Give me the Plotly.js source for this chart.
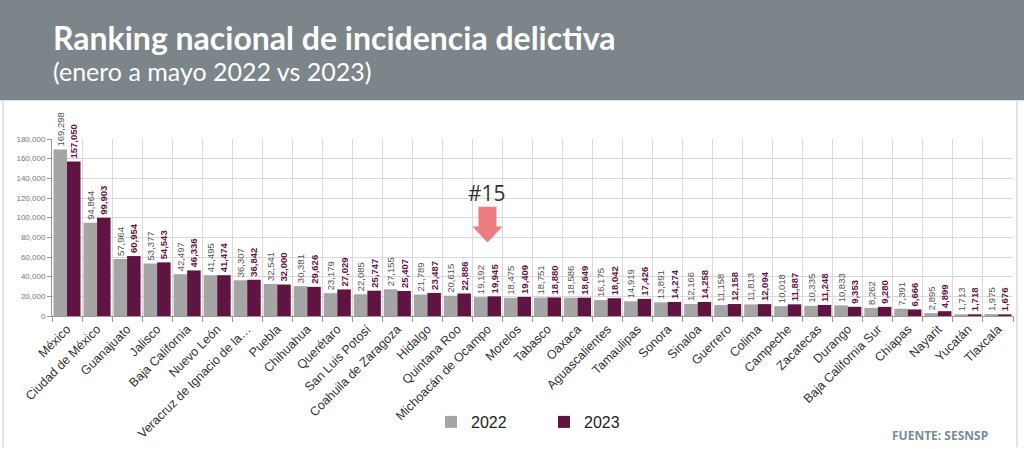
<!DOCTYPE html>
<html>
<head>
<meta charset="utf-8">
<script src="https://cdn.plot.ly/plotly-3.0.1.min.js"></script>
<style>
html,body{margin:0;padding:0;background:#fff;}
#chart{width:1024px;height:449px;}
</style>
</head>
<body>
<div id="chart"></div>
<script>
const estados = ["México","Ciudad de México","Guanajuato","Jalisco","Baja California","Nuevo León","Veracruz de Ignacio de la…","Puebla","Chihuahua","Querétaro","San Luis Potosí","Coahuila de Zaragoza","Hidalgo","Quintana Roo","Michoacán de Ocampo","Morelos","Tabasco","Oaxaca","Aguascalientes","Tamaulipas","Sonora","Sinaloa","Guerrero","Colima","Campeche","Zacatecas","Durango","Baja California Sur","Chiapas","Nayarit","Yucatán","Tlaxcala"];
const valores2022 = [169298,94864,57964,53377,42497,41495,36307,32541,30381,23179,22085,27155,21789,20615,19192,18475,18751,18586,16175,14919,13891,12166,11158,11813,10018,10335,10833,8262,7391,2895,1713,1975];
const valores2023 = [157050,99903,60954,54543,46336,41474,36842,32000,29626,27029,25747,25407,23487,22886,19945,19409,18880,18649,18042,17426,14274,14258,12158,12094,11887,11248,9353,9280,6666,4899,1718,1676];
const yTicks = [0,20000,40000,60000,80000,100000,120000,140000,160000,180000];
const titulo = "Ranking nacional de incidencia delictiva";
const subtitulo = "(enero a mayo 2022 vs 2023)";
const fuente = "FUENTE: SESNSP";
const marcaRanking = "#15";
const posicionMarca = 14;

const fmt = v => v.toLocaleString('en-US');

const gris = '#a5a5a5';
const vino = '#5f1442';

const traces = [
  {
    type:'bar', name:'2022', x:estados, y:valores2022,
    marker:{color:gris},
    text:valores2022.map(fmt), textposition:'outside', textangle:-90,
    textfont:{family:'Liberation Sans, Arial', size:9.5, color:'#555'},
    constraintext:'none', cliponaxis:false, hoverinfo:'none'
  },
  {
    type:'bar', name:'2023', x:estados, y:valores2023,
    marker:{color:vino},
    text:valores2023.map(v=>'<b>'+fmt(v)+'</b>'), textposition:'outside', textangle:-90,
    textfont:{family:'Liberation Sans, Arial', size:9.5, color:vino},
    constraintext:'none', cliponaxis:false, hoverinfo:'none'
  }
];

// paper coordinate helpers (plot area: x 52..1013, y 139..317)
const L=52, R=1013, T=139, B=317;
const px = p => (p-L)/(R-L);
const py = p => (B-p)/(B-T);

const xc = posicionMarca;
const layout = {
  width:1024, height:449,
  margin:{l:L, r:1024-R, t:T, b:449-B, pad:0},
  paper_bgcolor:'#fff', plot_bgcolor:'#fff',
  barmode:'group', bargap:0.1, bargroupgap:0,
  showlegend:true,
  legend:{orientation:'h', x:px(431), y:py(422), xanchor:'left', yanchor:'middle',
    font:{family:'Liberation Sans, Arial', size:16, color:'#222'},
    entrywidth:68, entrywidthmode:'pixels', itemwidth:30, traceorder:'normal'},
  xaxis:{
    type:'category', tickangle:-45, tickson:'boundaries',
    showgrid:true, gridcolor:'#d9d9d9', gridwidth:1,
    ticks:'outside', ticklen:5, tickcolor:'#999',
    showline:true, linecolor:'#999', linewidth:1,
    tickfont:{family:'Liberation Sans, Arial', size:12.5, color:'#333'},
    automargin:false, fixedrange:true
  },
  yaxis:{
    range:[0,180000], tickvals:yTicks, ticktext:yTicks.map(fmt),
    showgrid:true, gridcolor:'#d9d9d9', gridwidth:1,
    ticks:'outside', ticklen:4, tickcolor:'#999',
    showline:true, linecolor:'#999', linewidth:1, zeroline:false,
    tickfont:{family:'Liberation Sans, Arial', size:8, color:'#777'},
    automargin:false, fixedrange:true
  },
  shapes:[
    {type:'rect', xref:'paper', yref:'paper', x0:px(-5), x1:px(1030), y0:py(100), y1:py(-5),
      fillcolor:'#7b858a', line:{width:0}, layer:'above'},
    {type:'line', xref:'paper', yref:'paper', x0:px(3), x1:px(3), y0:py(449), y1:py(100),
      line:{color:'#e3e3e3', width:2}},
    {type:'line', xref:'paper', yref:'paper', x0:px(1017), x1:px(1017), y0:py(449), y1:py(100),
      line:{color:'#e3e3e3', width:2}},
    {type:'path', xref:'x', yref:'y', layer:'above',
      path:`M ${xc-0.3} 111200 L ${xc+0.3} 111200 L ${xc+0.3} 91000 L ${xc+0.5} 91000 L ${xc} 74800 L ${xc-0.5} 91000 L ${xc-0.3} 91000 Z`,
      fillcolor:'#ee7b7d', line:{width:0}}
  ],
  annotations:[
    {xref:'paper', yref:'paper', x:px(51), y:py(37), xanchor:'left', yanchor:'middle',
      text:'<b>'+titulo+'</b>', showarrow:false,
      font:{family:'Lato', size:32, color:'#fff'}},
    {xref:'paper', yref:'paper', x:px(51), y:py(71), xanchor:'left', yanchor:'middle',
      text:subtitulo, showarrow:false,
      font:{family:'Lato', size:25, color:'#fff'}},
    {xref:'x', yref:'y', x:xc, y:125400, xanchor:'center', yanchor:'middle',
      text:marcaRanking, showarrow:false,
      font:{family:'Open Sans', size:21, color:'#333'}},
    {xref:'paper', yref:'paper', x:px(990), y:py(437), xanchor:'right', yanchor:'middle',
      text:'<b>'+fuente+'</b>', showarrow:false,
      font:{family:'Open Sans', size:12, color:'#7d8b96'}}
  ]
};

Plotly.newPlot('chart', traces, layout, {displayModeBar:false, staticPlot:true});
</script>
</body>
</html>
